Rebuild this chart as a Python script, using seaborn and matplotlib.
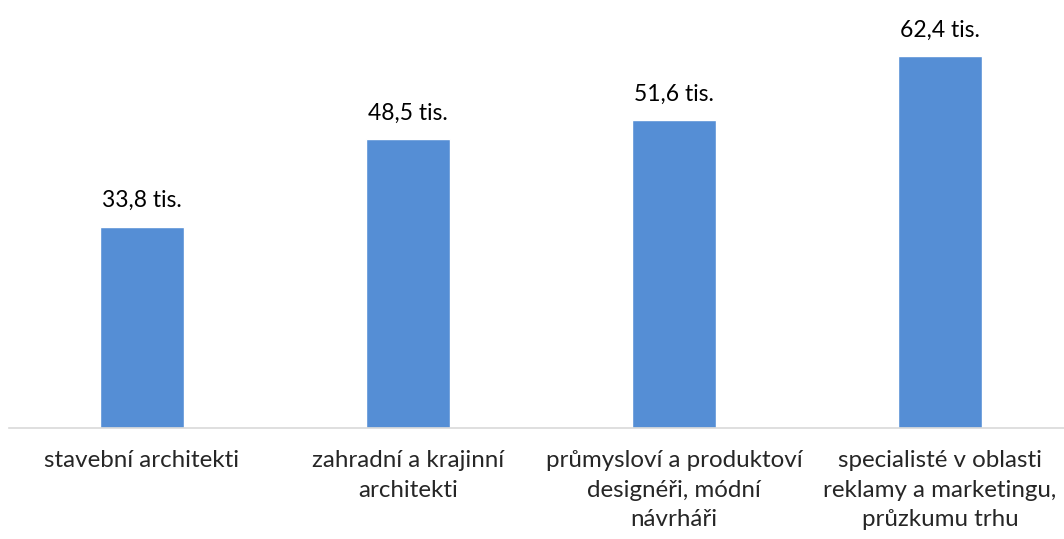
import matplotlib
matplotlib.use("Agg")
import matplotlib.pyplot as plt
import seaborn as sns
import pandas as pd

# Data
categories = ["stavební architekti",
              "zahradní a krajinní\narchitekti",
              "průmysloví a produktoví\ndesignéři, módní\nnávrháři",
              "specialisté v oblasti\nreklamy a marketingu,\nprůzkumu trhu"]
values = [33.8, 48.5, 51.6, 62.4]
value_labels = ["33,8 tis.", "48,5 tis.", "51,6 tis.", "62,4 tis."]

df = pd.DataFrame({"kategorie": categories, "hodnota": values})

sns.set_style("white")
plt.rcParams['font.family'] = ['Lato', 'DejaVu Sans']

fig = plt.figure(figsize=(10.64, 5.39), dpi=100)
ax = fig.add_axes([0.0085, 0.206, 1.0, 0.774])

sns.barplot(data=df, x="kategorie", y="hodnota", color="#558ED5",
            width=0.316, saturation=1, ax=ax)

for i, (v, lab) in enumerate(zip(values, value_labels)):
    ax.text(i, v + 2.6, lab, ha="center", va="bottom", fontsize=16.5, color="#000000")

ax.set_xlim(-0.5, 3.5)
ax.set_ylim(0, 70)
ax.set_xlabel("")
ax.set_ylabel("")
ax.set_yticks([])
ax.tick_params(axis="x", length=0, pad=16, labelsize=17.4)
for t in ax.get_xticklabels():
    t.set_linespacing(1.5)
for s in ["top", "right", "left"]:
    ax.spines[s].set_visible(False)
ax.spines["bottom"].set_color("#D9D9D9")
ax.spines["bottom"].set_linewidth(1.2)

fig.savefig("out.png", dpi=100)
